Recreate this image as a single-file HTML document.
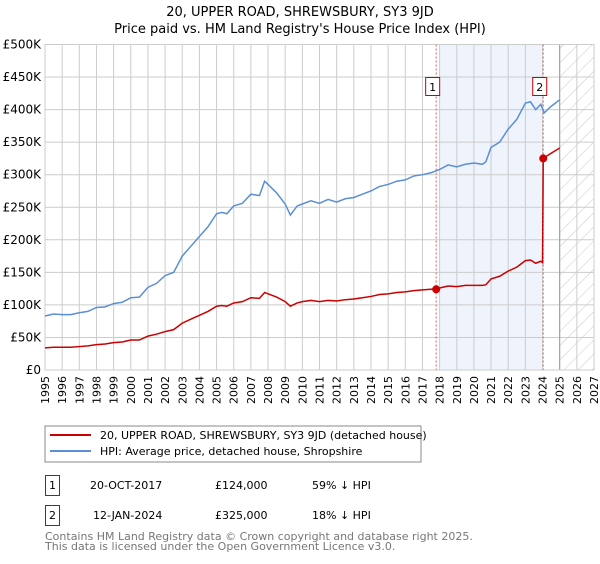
<!DOCTYPE html>
<html><head><meta charset="utf-8">
<style>
body{margin:0;background:#fff;font-family:"DejaVu Sans","Liberation Sans",sans-serif;}
svg text{font-family:"DejaVu Sans","Liberation Sans",sans-serif;}
</style></head>
<body>
<svg id="chart" width="600" height="560" xmlns="http://www.w3.org/2000/svg">
<defs>
<pattern id="hatch" width="10" height="10" patternUnits="userSpaceOnUse" patternTransform="rotate(45)">
<line x1="0" y1="0" x2="0" y2="10" stroke="#c8c8c8" stroke-width="1"/>
</pattern>
</defs>
<text x="300" y="16" text-anchor="middle" font-size="13">20, UPPER ROAD, SHREWSBURY, SY3 9JD</text>
<text x="300" y="33" text-anchor="middle" font-size="13">Price paid vs. HM Land Registry's House Price Index (HPI)</text>
<g id="plot"></g>
<rect x="45" y="426" width="376" height="36" fill="#fff" stroke="#888"/>
<line x1="50" y1="435" x2="91" y2="435" stroke="#cc0000" stroke-width="2"/>
<text x="100" y="439" font-size="11">20, UPPER ROAD, SHREWSBURY, SY3 9JD (detached house)</text>
<line x1="50" y1="451" x2="91" y2="451" stroke="#5b8fd4" stroke-width="2"/>
<text x="100" y="455" font-size="11">HPI: Average price, detached house, Shropshire</text>
<rect x="45.5" y="475.5" width="14" height="20" fill="#fff" stroke="#cc0000"/>
<text x="52.5" y="489" text-anchor="middle" font-size="11">1</text>
<text x="90" y="489" font-size="11">20-OCT-2017</text>
<text x="215" y="489" font-size="11">£124,000</text>
<text x="312" y="489" font-size="11">59% ↓ HPI</text>
<rect x="45.5" y="505.5" width="14" height="20" fill="#fff" stroke="#cc0000"/>
<text x="52.5" y="519" text-anchor="middle" font-size="11">2</text>
<text x="93" y="519" font-size="11">12-JAN-2024</text>
<text x="215" y="519" font-size="11">£325,000</text>
<text x="312" y="519" font-size="11">18% ↓ HPI</text>
<text x="45" y="540" font-size="11" fill="#777">Contains HM Land Registry data © Crown copyright and database right 2025.</text>
<text x="45" y="550" font-size="11" fill="#777">This data is licensed under the Open Government Licence v3.0.</text>
</svg>
<script>
const hpiYears=[1995,1995.5,1996,1996.5,1997,1997.5,1998,1998.5,1999,1999.5,2000,2000.5,2001,2001.5,2002,2002.5,2003,2003.5,2004,2004.5,2005,2005.3,2005.6,2006,2006.5,2007,2007.5,2007.8,2008,2008.5,2009,2009.3,2009.7,2010,2010.5,2011,2011.5,2012,2012.5,2013,2013.5,2014,2014.5,2015,2015.5,2016,2016.5,2017,2017.5,2018,2018.5,2019,2019.5,2020,2020.5,2020.7,2021,2021.5,2022,2022.5,2023,2023.3,2023.6,2023.9,2024.1,2024.5,2025];
const hpiValues=[83,86,85,85,88,90,96,97,102,104,111,112,127,133,145,150,175,190,205,220,240,242,240,252,256,270,268,290,285,272,255,238,252,255,260,256,262,258,263,265,270,275,282,285,290,292,298,300,303,308,315,312,316,318,316,320,342,350,370,385,410,412,400,408,395,405,415];
const priceYears=[1995,1995.5,1996,1996.5,1997,1997.5,1998,1998.5,1999,1999.5,2000,2000.5,2001,2001.5,2002,2002.5,2003,2003.5,2004,2004.5,2005,2005.3,2005.6,2006,2006.5,2007,2007.5,2007.8,2008,2008.5,2009,2009.3,2009.7,2010,2010.5,2011,2011.5,2012,2012.5,2013,2013.5,2014,2014.5,2015,2015.5,2016,2016.5,2017,2017.5,2017.8,2018,2018.5,2019,2019.5,2020,2020.5,2020.7,2021,2021.5,2022,2022.5,2023,2023.3,2023.6,2023.9,2024.0,2024.04,2024.5,2025];
const priceValues=[34,35,35,35,36,37,39,40,42,43,46,46,52,55,59,62,72,78,84,90,98,99,98,103,105,111,110,119,117,112,105,98,103,105,107,105,107,106,108,109,111,113,116,117,119,120,122,123,124,124,126,129,128,130,130,130,131,140,144,152,158,168,169,164,167,165,325,333,341];
const saleYears=[2017.8,2024.04];
const saleValues=[124,325];
const saleLabels=["1","2"];
const yTicks=[0,50,100,150,200,250,300,350,400,450,500];
const yTickLabels=["£0","£50K","£100K","£150K","£200K","£250K","£300K","£350K","£400K","£450K","£500K"];
const xTicks=[1995,1996,1997,1998,1999,2000,2001,2002,2003,2004,2005,2006,2007,2008,2009,2010,2011,2012,2013,2014,2015,2016,2017,2018,2019,2020,2021,2022,2023,2024,2025,2026,2027];

const L=45,R=594,T=44.5,B=370;
const X=y=>L+(y-1995)*(R-L)/32;
const Y=v=>B-v*(B-T)/500;
const NS="http://www.w3.org/2000/svg";
const g=document.getElementById('plot');
function mk(tag,attrs){const e=document.createElementNS(NS,tag);for(const k in attrs)e.setAttribute(k,attrs[k]);g.appendChild(e);return e;}

let e=mk('rect',{x:X(2018),y:T,width:X(saleYears[1])-X(2018),height:B-T,fill:'#eef3fc'});


e=mk('rect',{x:X(2025),y:T,width:R-X(2025),height:B-T,fill:'url(#hatch)'});


xTicks.forEach(t=>{
  const l=mk('line',{x1:X(t),x2:X(t),y1:T,y2:B,stroke:'#ccc','stroke-width':1});
  
  
  const tx=mk('text',{x:0,y:0,'font-size':11,'text-anchor':'end',transform:`translate(${X(t)+4},${B+6}) rotate(-90)`});
  tx.textContent=t;
  
  
});
yTicks.forEach((t,i)=>{
  const l=mk('line',{x1:L,x2:R,y1:Y(t),y2:Y(t),stroke:'#ccc','stroke-width':1});
  
  
  const tx=mk('text',{x:L-4,y:Y(t)+4,'font-size':12,'text-anchor':'end'});
  tx.textContent=yTickLabels[i];
  
  
});
e=mk('line',{x1:X(2025),x2:X(2025),y1:T,y2:B,stroke:'#999','stroke-width':1});


e=mk('rect',{x:L,y:T,width:R-L,height:B-T,fill:'none',stroke:'#ccc'});


saleYears.forEach((s,i)=>{
  const l=mk('line',{x1:X(s),x2:X(s),y1:T,y2:B,stroke:'#e06060','stroke-width':1,'stroke-dasharray':'2,2'});
  
  
});
e=mk('polyline',{points:hpiYears.map((y,i)=>X(y)+','+Y(hpiValues[i])).join(' '),fill:'none',stroke:'#5b8fd4','stroke-width':1.5});


e=mk('polyline',{points:priceYears.map((y,i)=>X(y)+','+Y(priceValues[i])).join(' '),fill:'none',stroke:'#cc0000','stroke-width':1.5});


saleYears.forEach((s,i)=>{
  const c=mk('circle',{cx:X(s),cy:Y(saleValues[i]),r:4,fill:'#cc0000'});
  
  
  const bx=X(s)-11;
  const r=mk('rect',{x:bx+0.5,y:77.5,width:14,height:18,fill:'#fff',stroke:'#cc0000'});
  
  
  const t=mk('text',{x:bx+7.5,y:91,'font-size':11,'text-anchor':'middle'});
  t.textContent=saleLabels[i];
  
  
});
</script>
</body></html>
